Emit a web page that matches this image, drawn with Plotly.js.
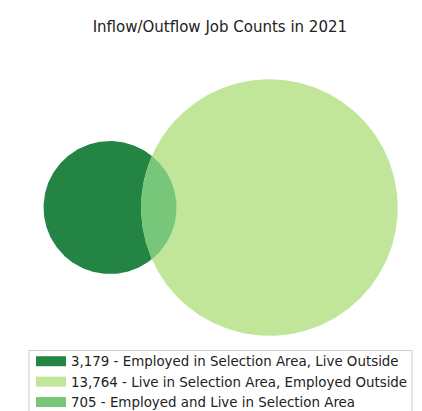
<!DOCTYPE html>
<html>
<head>
<meta charset="utf-8">
<script src="https://cdn.plot.ly/plotly-3.0.1.min.js"></script>
<style>html,body{margin:0;padding:0;background:#fff;}#chart{width:422px;height:411px;}</style>
</head>
<body>
<div id="chart"></div>
<script>
// Data
const categories = [
  "Employed in Selection Area, Live Outside",
  "Live in Selection Area, Employed Outside",
  "Employed and Live in Selection Area"
];
const counts = [3179, 13764, 705];
const colors = ["#238443", "#c2e699", "#78c679"];
const titleText = "Inflow/Outflow Job Counts in 2021";

// Area-proportional Venn geometry
const areaA = counts[0] + counts[2];
const areaB = counts[1] + counts[2];
const rA = Math.sqrt(areaA / Math.PI);
const rB = Math.sqrt(areaB / Math.PI);
function lensArea(d, r1, r2) {
  if (d >= r1 + r2) return 0;
  if (d <= Math.abs(r1 - r2)) return Math.PI * Math.min(r1, r2) ** 2;
  const a1 = Math.acos((d*d + r1*r1 - r2*r2) / (2*d*r1));
  const a2 = Math.acos((d*d + r2*r2 - r1*r1) / (2*d*r2));
  return r1*r1*a1 + r2*r2*a2 - 0.5*Math.sqrt((-d+r1+r2)*(d+r1-r2)*(d-r1+r2)*(d+r1+r2));
}
let lo = Math.abs(rA - rB), hi = rA + rB;
for (let i = 0; i < 200; i++) {
  const mid = (lo + hi) / 2;
  if (lensArea(mid, rA, rB) > counts[2]) lo = mid; else hi = mid;
}
const d = (lo + hi) / 2;
const cA = [0, 0], cB = [d, 0];

function circlePts(c, r, n) {
  const xs = [], ys = [];
  for (let i = 0; i <= n; i++) {
    const t = 2*Math.PI*i/n;
    xs.push(c[0] + r*Math.cos(t)); ys.push(c[1] + r*Math.sin(t));
  }
  return [xs, ys];
}
// Lens: intersection points
const xi = (d*d - rB*rB + rA*rA) / (2*d);
const yi = Math.sqrt(rA*rA - xi*xi);
const angA = Math.atan2(yi, xi);
const angB = Math.atan2(yi, xi - d);
const lx = [], ly = [];
const N = 120;
for (let i = 0; i <= N; i++) {
  const t = -angA + 2*angA*i/N;
  lx.push(cA[0] + rA*Math.cos(t)); ly.push(cA[1] + rA*Math.sin(t));
}
for (let i = 0; i <= N; i++) {
  const t = angB + (2*Math.PI - 2*angB)*i/N;
  lx.push(cB[0] + rB*Math.cos(t)); ly.push(cB[1] + rB*Math.sin(t));
}

const [ax, ay] = circlePts(cA, rA, 360);
const [bx, by] = circlePts(cB, rB, 360);
const fmt = v => v.toLocaleString('en-US');
const regions = [[ax, ay], [bx, by], [lx, ly]];

const traces = [];
regions.forEach((r, i) => {
  traces.push({x: r[0], y: r[1], fill: 'toself', fillcolor: colors[i], mode: 'lines',
    line: {width: 0, color: colors[i]}, showlegend: false, legendgroup: 'g' + i, hoverinfo: 'skip'});
});
counts.forEach((c, i) => {
  traces.push({x: [null], y: [null], mode: 'lines', line: {width: 10, color: colors[i]},
    name: fmt(c) + ' - ' + categories[i], legendgroup: 'g' + i, showlegend: true});
});

const layout = {
  width: 422, height: 411,
  paper_bgcolor: '#ffffff', plot_bgcolor: '#ffffff',
  margin: {l: 10, r: 10, t: 50, b: 66, autoexpand: false},
  title: {text: titleText, x: 0.521, xref: 'container', y: 0.934, yref: 'container', yanchor: 'middle',
          font: {family: 'DejaVu Sans', size: 15, color: '#222'}},
  xaxis: {range: [-52.9, 159.7], visible: false, fixedrange: true},
  yaxis: {range: [-72.7, 83.3], visible: false, scaleanchor: 'x', scaleratio: 1, fixedrange: true},
  showlegend: true,
  legend: {x: 31/422, xref: 'container', xanchor: 'left', y: 1 - 346/411, yref: 'container', yanchor: 'top',
           bgcolor: 'rgba(0,0,0,0)', borderwidth: 0, traceorder: 'normal',
           font: {family: 'DejaVu Sans', size: 13.4, color: '#222'}, itemwidth: 30, tracegroupgap: 0},
  shapes: [{type: 'rect', xref: 'paper', yref: 'paper', x0: 19/402, x1: 402/402, y0: -5.5/295, y1: -70/295,
            line: {color: '#cccccc', width: 1}, fillcolor: 'rgba(0,0,0,0)', layer: 'below'}],
  hovermode: false
};
Plotly.newPlot('chart', traces, layout, {displayModeBar: false, staticPlot: true});
</script>
</body>
</html>
